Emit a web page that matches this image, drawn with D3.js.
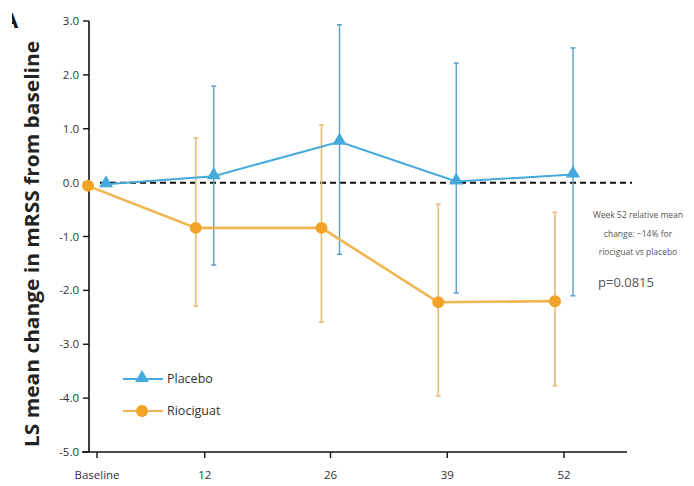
<!DOCTYPE html>
<html>
<head>
<meta charset="utf-8">
<script src="https://cdn.jsdelivr.net/npm/d3@7"></script>
<style>
  body { margin: 0; background: #fff; }
  svg { display: block; font-family: "Open Sans", sans-serif; }
</style>
</head>
<body>
<svg id="chart" width="694" height="486"></svg>
<script>
// weeks on study, tick labels
var weeks = [0, 12, 26, 39, 52];
var weekLabels = ["Baseline", "12", "26", "39", "52"];
var yTicks = [3, 2, 1, 0, -1, -2, -3, -4, -5];

// LS mean change in mRSS, with error bar limits
var placeboMean  = [-0.03, 0.12, 0.76, 0.02, 0.15];
var placeboUpper = [null, 1.79, 2.93, 2.22, 2.5];
var placeboLower = [null, -1.53, -1.33, -2.05, -2.1];

var rioMean  = [-0.06, -0.84, -0.84, -2.22, -2.2];
var rioUpper = [null, 0.83, 1.07, -0.4, -0.55];
var rioLower = [null, -2.29, -2.59, -3.96, -3.77];

var blue = "#45a9dc", blueBar = "#5b9fc8";
var orange = "#f2a427", orangeLine = "#f0b54f", orangeBar = "#e5bd74";

var svg = d3.select("#chart");

var x = d3.scaleLinear().domain([0, 52]).range([97, 564]);
var y = d3.scaleLinear().domain([-5, 3]).range([452, 21]);

// cut-off panel letter
svg.append("clipPath").attr("id", "cut")
  .append("rect").attr("x", 12).attr("y", 0).attr("width", 20).attr("height", 40);
svg.append("text")
  .attr("clip-path", "url(#cut)")
  .attr("x", 3).attr("y", 28)
  .attr("font-size", 22).attr("font-weight", "bold")
  .attr("fill", "#111")
  .text("A");

// y axis
svg.append("line")
  .attr("x1", 89).attr("x2", 89)
  .attr("y1", y(3)).attr("y2", y(-5))
  .attr("stroke", "#111").attr("stroke-width", 1.6);
var yt = svg.append("g").selectAll("g").data(yTicks).join("g")
  .attr("transform", d => `translate(0,${y(d)})`);
yt.append("line").attr("x1", 83).attr("x2", 89)
  .attr("stroke", "#111").attr("stroke-width", 1.4);
yt.append("text")
  .attr("x", 79).attr("dy", "0.35em")
  .attr("text-anchor", "end")
  .attr("font-size", 11.5).attr("fill", "#333")
  .text(d => d3.format(".1f")(d).replace("−", "-"));

// x axis
svg.append("line")
  .attr("x1", 82).attr("x2", 627)
  .attr("y1", y(-5)).attr("y2", y(-5))
  .attr("stroke", "#111").attr("stroke-width", 1.6);
var xt = svg.append("g").selectAll("g").data(weeks).join("g")
  .attr("transform", d => `translate(${x(d)},${y(-5)})`);
xt.append("line").attr("y1", 0).attr("y2", 6)
  .attr("stroke", "#111").attr("stroke-width", 1.4);
xt.append("text")
  .attr("y", 27)
  .attr("text-anchor", "middle")
  .attr("font-size", 11.5).attr("fill", "#333")
  .text((d, i) => weekLabels[i]);

// y label
svg.append("text")
  .attr("transform", "translate(39,244) rotate(-90)")
  .attr("text-anchor", "middle")
  .attr("font-size", 19.5).attr("font-weight", "bold")
  .attr("textLength", 406).attr("lengthAdjust", "spacingAndGlyphs")
  .attr("fill", "#222")
  .text("LS mean change in mRSS from baseline");

// reference line at zero
svg.append("line")
  .attr("x1", 100).attr("x2", 632)
  .attr("y1", y(0)).attr("y2", y(0))
  .attr("stroke", "#111").attr("stroke-width", 2)
  .attr("stroke-dasharray", "6,4");

function series(mean, upper, lower, dx) {
  return weeks.map((w, i) => ({ x: x(w) + dx, m: mean[i], hi: upper[i], lo: lower[i] }));
}
var rio = series(rioMean, rioUpper, rioLower, -9);
var pla = series(placeboMean, placeboUpper, placeboLower, 9);
rio[0].x = 88;
pla[0].x = 106;

function errorBars(data, color, w) {
  var g = svg.append("g").selectAll("g").data(data.filter(d => d.hi != null)).join("g");
  g.append("line")
    .attr("x1", d => d.x).attr("x2", d => d.x)
    .attr("y1", d => y(d.hi)).attr("y2", d => y(d.lo))
    .attr("stroke", color).attr("stroke-width", w);
  ["hi", "lo"].forEach(k => {
    g.append("line")
      .attr("x1", d => d.x - 2.5).attr("x2", d => d.x + 2.5)
      .attr("y1", d => y(d[k])).attr("y2", d => y(d[k]))
      .attr("stroke", color).attr("stroke-width", 1.5);
  });
}
errorBars(rio, orangeBar, 1.6);
errorBars(pla, blueBar, 1.4);

var line = d3.line().x(d => d.x).y(d => y(d.m));
svg.append("path").datum(rio).attr("d", line)
  .attr("fill", "none").attr("stroke", orangeLine).attr("stroke-width", 2.6);
svg.append("path").datum(pla).attr("d", line)
  .attr("fill", "none").attr("stroke", blue).attr("stroke-width", 2);

var tri = d3.symbol().type(d3.symbolTriangle).size(85);
svg.append("g").selectAll("circle").data(rio).join("circle")
  .attr("cx", d => d.x).attr("cy", d => y(d.m)).attr("r", 6)
  .attr("fill", orange);
svg.append("g").selectAll("path").data(pla).join("path")
  .attr("d", tri)
  .attr("transform", d => `translate(${d.x},${y(d.m) - 1})`)
  .attr("fill", blue);

// legend
var legend = [
  { name: "Placebo", color: blue, mark: "tri", y: 379 },
  { name: "Riociguat", color: orange, mark: "circle", y: 411 }
];
var lg = svg.append("g").selectAll("g").data(legend).join("g")
  .attr("transform", d => `translate(0,${d.y})`);
lg.append("line").attr("x1", 123).attr("x2", 163)
  .attr("stroke", d => d.mark == "tri" ? blue : orangeLine).attr("stroke-width", 2);
lg.filter(d => d.mark == "tri").append("path")
  .attr("d", tri).attr("transform", "translate(142,-1)").attr("fill", blue);
lg.filter(d => d.mark == "circle").append("circle")
  .attr("cx", 142).attr("r", 6).attr("fill", orange);
lg.append("text")
  .attr("x", 167).attr("dy", "0.35em")
  .attr("font-size", 12.5).attr("fill", "#333")
  .text(d => d.name);

// annotation
var note = ["Week 52 relative mean", "change: \u221214% for", "riociguat vs placebo"];
svg.append("g").selectAll("text").data(note).join("text")
  .attr("x", 638).attr("y", (d, i) => 218 + i * 18.5)
  .attr("text-anchor", "middle")
  .attr("font-size", 8.5).attr("fill", "#555")
  .text(d => d);
svg.append("text")
  .attr("x", 598).attr("y", 287)
  .attr("font-size", 13).attr("fill", "#555")
  .text("p=0.0815");
</script>
</body>
</html>
